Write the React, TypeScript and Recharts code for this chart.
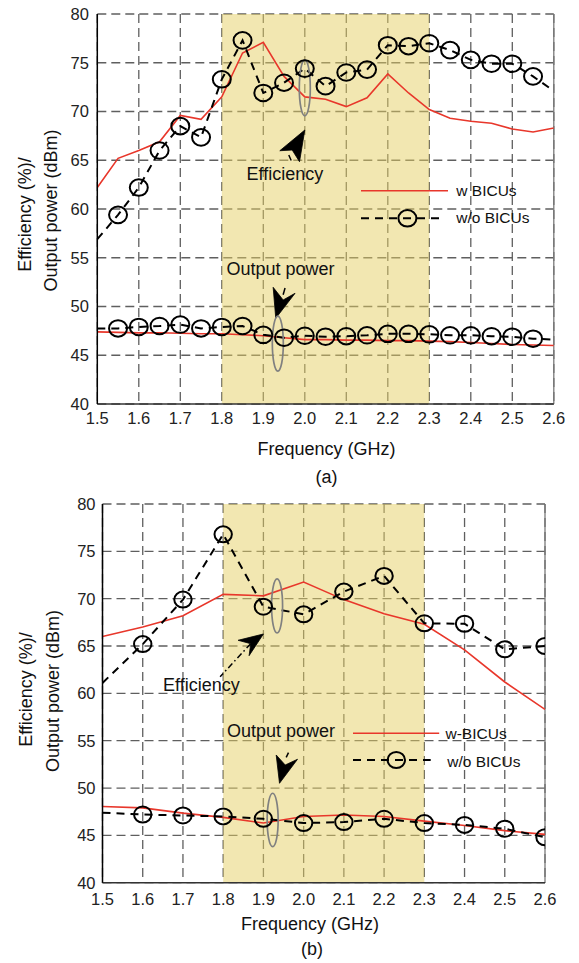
import React from 'react';
import {
  LineChart,
  Line,
  XAxis,
  YAxis,
  CartesianGrid,
  ReferenceArea,
  ReferenceDot,
  ReferenceLine,
  Legend,
} from 'recharts';

const FONT = '"Liberation Sans", Arial, Helvetica, sans-serif';
const RED = '#E8372B';

// ---------- Panel (a) ----------
const freqA = [1.5, 1.55, 1.6, 1.65, 1.7, 1.75, 1.8, 1.85, 1.9, 1.95, 2.0, 2.05, 2.1, 2.15, 2.2, 2.25, 2.3, 2.35, 2.4, 2.45, 2.5, 2.55, 2.6];
const effWithA = [62.2, 65.2, 66.0, 66.9, 69.6, 69.2, 71.5, 76.0, 77.1, 73.6, 71.5, 71.25, 70.5, 71.4, 73.85, 71.9, 70.2, 69.3, 69.0, 68.8, 68.2, 67.9, 68.3];
const effWithoutA = [56.9, 59.4, 62.2, 66.0, 68.5, 67.35, 73.3, 77.3, 71.9, 72.95, 74.4, 72.6, 74.0, 74.3, 76.8, 76.7, 77.0, 76.3, 75.3, 74.9, 74.9, 73.6, 72.1];
const powWithA = [47.4, 47.35, 47.3, 47.3, 47.25, 47.2, 47.2, 47.1, 47.0, 46.8, 46.6, 46.6, 46.55, 46.55, 46.5, 46.5, 46.45, 46.4, 46.3, 46.2, 46.1, 46.05, 46.0];
const powWithoutA = [47.75, 47.75, 47.9, 48.0, 48.15, 47.75, 47.9, 48.0, 47.1, 46.8, 47.0, 46.9, 46.95, 47.05, 47.2, 47.2, 47.15, 47.05, 47.05, 46.95, 46.9, 46.7, 46.6];

// ---------- Panel (b) ----------
const freqB = [1.5, 1.6, 1.7, 1.8, 1.9, 2.0, 2.1, 2.2, 2.3, 2.4, 2.5, 2.6];
const effWithB = [66.0, 67.0, 68.2, 70.45, 70.3, 71.75, 69.9, 68.4, 67.3, 64.6, 61.2, 58.3];
const effWithoutB = [61.1, 65.2, 69.9, 76.8, 69.15, 68.35, 70.75, 72.4, 67.4, 67.35, 64.65, 65.0];
const powWithB = [48.05, 47.9, 47.35, 46.9, 46.3, 47.0, 47.15, 47.0, 46.5, 46.05, 45.5, 45.1];
const powWithoutB = [47.4, 47.2, 47.1, 47.0, 46.75, 46.3, 46.4, 46.75, 46.3, 46.1, 45.7, 44.8];

// ---------- Axes ----------
const xTicks = [1.5, 1.6, 1.7, 1.8, 1.9, 2.0, 2.1, 2.2, 2.3, 2.4, 2.5, 2.6];
const yTicks = [40, 45, 50, 55, 60, 65, 70, 75, 80];
const band = [1.8, 2.3];
const yLabelLines = ['Efficiency (%)/', 'Output power (dBm)'];
const xLabel = 'Frequency (GHz)';
const legendA = ['w BICUs', 'w/o BICUs'];
const legendB = ['w-BICUs', 'w/o BICUs'];

const zip = (xs: number[], ys: number[]) => xs.map((x, i) => ({ x, y: ys[i] }));

const makeDot = (rx: number, ry: number, hidden: number[]) => (props: any) => {
  const { cx, cy, index } = props;
  if (cx == null || cy == null || hidden.includes(index)) return <g key={`h${index}`} />;
  return (
    <ellipse key={`d${index}`} cx={cx} cy={cy} rx={rx} ry={ry} fill="none" stroke="#000" strokeWidth={2} />
  );
};

const arrowShape = (pts: number[][], tail: number[][], tailDash?: string) => (p: any) => {
  const { cx, cy } = p;
  const d = `M${cx},${cy} ` + pts.map(([dx, dy]) => `L${cx + dx},${cy + dy}`).join(' ') + ' Z';
  return (
    <g>
      <line
        x1={cx + tail[0][0]}
        y1={cy + tail[0][1]}
        x2={cx + tail[1][0]}
        y2={cy + tail[1][1]}
        stroke="#000"
        strokeWidth={1.5}
        strokeDasharray={tailDash}
      />
      <path d={d} fill="#000" stroke="#000" strokeWidth={0.8} />
    </g>
  );
};

const ellipseShape = (rx: number, ry: number) => (p: any) => (
  <ellipse cx={p.cx} cy={p.cy} rx={rx} ry={ry} fill="none" stroke="#808080" strokeWidth={1.7} />
);

const textShape = (txt: string) => (p: any) => (
  <text x={p.cx} y={p.cy} textAnchor="middle" fontSize={18} fill="#111" fontFamily={FONT}>
    {txt}
  </text>
);

type LegendCfg = {
  left: number;
  top: number;
  labels: string[];
  redY: number;
  redX2: number;
  redTextX: number;
  redBase: number;
  blkY: number;
  blkX2: number;
  blkCx: number;
  blkTextX: number;
  blkBase: number;
  rx: number;
  ry: number;
};

const LegendBox = ({ c }: { c: LegendCfg }) => (
  <svg width={230} height={62} style={{ display: 'block', overflow: 'visible' }}>
    <line x1={6} y1={c.redY} x2={c.redX2} y2={c.redY} stroke={RED} strokeWidth={1.6} />
    <text x={c.redTextX} y={c.redBase} fontSize={15.5} fill="#111" fontFamily={FONT}>
      {c.labels[0]}
    </text>
    <line x1={6} y1={c.blkY} x2={c.blkX2} y2={c.blkY} stroke="#000" strokeWidth={2} strokeDasharray="8 6" />
    <ellipse cx={c.blkCx} cy={c.blkY} rx={c.rx} ry={c.ry} fill="#fff" fillOpacity={0} stroke="#000" strokeWidth={2} />
    <text x={c.blkTextX} y={c.blkBase} fontSize={15.5} fill="#111" fontFamily={FONT}>
      {c.labels[1]}
    </text>
  </svg>
);

type PanelProps = {
  height: number;
  margin: { top: number; right: number; bottom: number; left: number };
  yWidth: number;
  xTickMargin: number;
  yTickMargin: number;
  xH: number;
  effWith: { x: number; y: number }[];
  effWithout: { x: number; y: number }[];
  powWith: { x: number; y: number }[];
  powWithout: { x: number; y: number }[];
  hiddenDots: number[];
  rx: number;
  ry: number;
  annots: React.ReactNode[];
  legend: LegendCfg;
  yLab: { x1: number; y1: number; x2: number; y2: number };
  xLab: { x: number; y: number; tag: string; tx: number; ty: number };
};

const Panel = (p: PanelProps) => {
  const dot = makeDot(p.rx, p.ry, p.hiddenDots);
  return (
    <LineChart width={579} height={p.height} margin={p.margin} style={{ fontFamily: FONT }}>
      <CartesianGrid stroke="#5f5f5f" strokeDasharray="9 5" strokeWidth={1.3} />
      <ReferenceArea
        x1={band[0]}
        x2={band[1]}
        y1={40}
        y2={80}
        fill="#E6CF63"
        fillOpacity={0.5}
        stroke="none"
        ifOverflow="hidden"
      />
      <XAxis
        dataKey="x"
        type="number"
        domain={[1.5, 2.6]}
        ticks={xTicks}
        interval={0}
        tickFormatter={(v: number) => v.toFixed(1)}
        tick={{ fontSize: 16.5, fill: '#222', fontFamily: FONT }}
        axisLine={{ stroke: '#333', strokeWidth: 1.4 }}
        tickLine={false}
        tickSize={0}
        tickMargin={p.xTickMargin}
        height={p.xH}
        allowDataOverflow
        label={{
          content: () => (
            <g fontFamily={FONT} fill="#111">
              <text x={p.xLab.x} y={p.xLab.y} textAnchor="middle" fontSize={18}>
                {xLabel}
              </text>
              <text x={p.xLab.tx} y={p.xLab.ty} textAnchor="middle" fontSize={18}>
                {p.xLab.tag}
              </text>
            </g>
          ),
        }}
      />
      <YAxis
        type="number"
        domain={[40, 80]}
        ticks={yTicks}
        interval={0}
        tick={{ fontSize: 16.5, fill: '#222', fontFamily: FONT }}
        axisLine={{ stroke: '#000', strokeWidth: 1.5 }}
        tickLine={false}
        tickSize={0}
        tickMargin={p.yTickMargin}
        width={p.yWidth}
        allowDataOverflow
        label={{
          content: () => (
            <g fontFamily={FONT} fill="#111" fontSize={18}>
              <text transform={`translate(${p.yLab.x1},${p.yLab.y1}) rotate(-90)`} textAnchor="middle">
                {yLabelLines[0]}
              </text>
              <text transform={`translate(${p.yLab.x2},${p.yLab.y2}) rotate(-90)`} textAnchor="middle">
                {yLabelLines[1]}
              </text>
            </g>
          ),
        }}
      />
      <ReferenceLine x={2.6} stroke="#7a7a7a" strokeWidth={1.3} />
      <Line data={p.effWith} dataKey="y" stroke={RED} strokeWidth={1.6} dot={false} isAnimationActive={false} />
      <Line data={p.powWith} dataKey="y" stroke={RED} strokeWidth={1.6} dot={false} isAnimationActive={false} />
      <Line
        data={p.effWithout}
        dataKey="y"
        stroke="#000"
        strokeWidth={2}
        strokeDasharray="8 6"
        dot={dot}
        isAnimationActive={false}
      />
      <Line
        data={p.powWithout}
        dataKey="y"
        stroke="#000"
        strokeWidth={2}
        strokeDasharray="8 6"
        dot={dot}
        isAnimationActive={false}
      />
      {p.annots}
      <Legend
        layout="vertical"
        align="center"
        verticalAlign="middle"
        wrapperStyle={{ left: p.legend.left, top: p.legend.top, width: 230, height: 62 }}
        content={() => <LegendBox c={p.legend} />}
      />
    </LineChart>
  );
};

const annotsA = [
  <ReferenceDot key="e1" x={2.0} y={72.42} r={1} ifOverflow="visible" shape={ellipseShape(5.5, 28)} />,
  <ReferenceDot
    key="a1"
    x={2.0}
    y={68.1}
    r={1}
    ifOverflow="visible"
    shape={arrowShape([[-25, 20.7], [-12.6, 20], [-5.3, 31.7]], [[-16, 25], [-13.6, 30.5]])}
  />,
  <ReferenceDot key="t1" x={1.952} y={63.0} r={1} ifOverflow="visible" shape={textShape('Efficiency')} />,
  <ReferenceDot key="t2" x={1.9415} y={53.23} r={1} ifOverflow="visible" shape={textShape('Output power')} />,
  <ReferenceDot
    key="a2"
    x={1.93}
    y={48.79}
    r={1}
    ifOverflow="visible"
    shape={arrowShape([[-2.6, -31], [7.4, -18.3], [19.3, -25]], [[9.3, -30.3], [7.4, -23.5]])}
  />,
  <ReferenceDot key="e2" x={1.935} y={46.2} r={1} ifOverflow="visible" shape={ellipseShape(5.5, 27.5)} />,
];

const annotsB = [
  <ReferenceDot key="e1" x={1.934} y={69.23} r={1} ifOverflow="visible" shape={ellipseShape(5.5, 27)} />,
  <ReferenceDot
    key="a1"
    x={1.9}
    y={66.27}
    r={1}
    ifOverflow="visible"
    shape={arrowShape([[-25.3, 6.3], [-12.7, 9.7], [-14.3, 21.7]], [[-12.7, 9.7], [-43.3, 42.7]], '6 3 1.5 3')}
  />,
  <ReferenceDot key="t1" x={1.746} y={60.25} r={1} ifOverflow="visible" shape={textShape('Efficiency')} />,
  <ReferenceDot key="t2" x={1.9437} y={55.4} r={1} ifOverflow="visible" shape={textShape('Output power')} />,
  <ReferenceDot
    key="a2"
    x={1.94}
    y={50.5}
    r={1}
    ifOverflow="visible"
    shape={arrowShape([[-3.3, -28.3], [5.7, -18.3], [18, -24]], [[9, -30.6], [6.7, -26]])}
  />,
  <ReferenceDot key="e2" x={1.923} y={46.63} r={1} ifOverflow="visible" shape={ellipseShape(5.5, 26.7)} />,
];

export default function App() {
  return (
    <div
      style={{
        position: 'absolute',
        left: 0,
        top: 0,
        width: 579,
        height: 963,
        background: '#fff',
        fontFamily: FONT,
        overflow: 'hidden',
      }}
    >
      <div style={{ position: 'absolute', left: 0, top: 0 }}>
        <Panel
          height={490}
          margin={{ top: 14, right: 25.2, bottom: 46, left: 0 }}
          yWidth={97.3}
          xTickMargin={8.4}
          yTickMargin={8.4}
          xH={40}
          effWith={zip(freqA, effWithA)}
          effWithout={zip(freqA, effWithoutA)}
          powWith={zip(freqA, powWithA)}
          powWithout={zip(freqA, powWithoutA)}
          hiddenDots={[0, 22]}
          rx={9}
          ry={8.3}
          annots={annotsA}
          legend={{
            left: 355,
            top: 175,
            labels: legendA,
            redY: 15.7,
            redX2: 93,
            redTextX: 101.3,
            redBase: 20.5,
            blkY: 43.3,
            blkX2: 85.7,
            blkCx: 52.4,
            blkTextX: 101.3,
            blkBase: 47.7,
            rx: 9,
            ry: 8.3,
          }}
          yLab={{ x1: 30.5, y1: 214.5, x2: 57, y2: 210.5 }}
          xLab={{ x: 326.5, y: 455, tag: '(a)', tx: 326.5, ty: 483 }}
        />
      </div>
      <div style={{ position: 'absolute', left: 0, top: 490 }}>
        <Panel
          height={473}
          margin={{ top: 14, right: 34, bottom: 40.3, left: 0 }}
          yWidth={102.5}
          xTickMargin={10.5}
          yTickMargin={7}
          xH={40}
          effWith={zip(freqB, effWithB)}
          effWithout={zip(freqB, effWithoutB)}
          powWith={zip(freqB, powWithB)}
          powWithout={zip(freqB, powWithoutB)}
          hiddenDots={[0]}
          rx={8.7}
          ry={8}
          annots={annotsB}
          legend={{
            left: 347,
            top: 230,
            labels: legendB,
            redY: 13.3,
            redX2: 92.2,
            redTextX: 98.5,
            redBase: 19.3,
            blkY: 40,
            blkX2: 83.7,
            blkCx: 49.3,
            blkTextX: 100.3,
            blkBase: 46.7,
            rx: 8.7,
            ry: 8,
          }}
          yLab={{ x1: 31.5, y1: 199.5, x2: 58.5, y2: 201 }}
          xLab={{ x: 310, y: 440, tag: '(b)', tx: 312, ty: 465 }}
        />
      </div>
    </div>
  );
}
